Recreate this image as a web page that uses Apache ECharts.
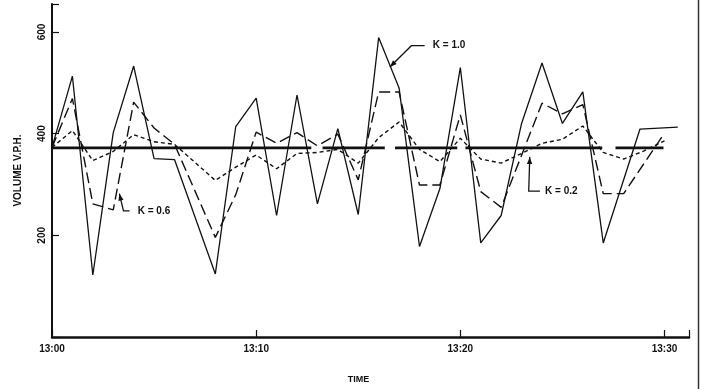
<!DOCTYPE html>
<html style="height: 100%">
<head>
    <title>Volume V.P.H.</title>
    <meta charset="utf-8">
</head>
<body style="height: 100%; margin: 0; background: #fff">
<div id="container" style="height:389px;width:701px"></div>
<script src="https://cdn.jsdelivr.net/npm/echarts@6/dist/echarts.min.js"></script>
<script type="text/javascript">
    // minutes after 13:00
    var minutes = [0, 1, 2, 3, 4, 5, 6, 7, 8, 9, 10, 11, 12, 13, 14, 15, 16, 17, 18, 19, 20,
        21, 22, 23, 24, 25, 26, 27, 28, 29, 30];
    // K = 1.0 (raw volume)
    var k10 = [373, 513, 122, 402, 533, 351, 349, null, 124, 414, 470, 239, 476, 262, 410, 241, 589, 490, 178, 292, 530,
        185, 239, 420, 539, 420, 482, 185, null, null, null];
    var k10TailMinutes = [28.8, 30.65];
    var k10Tail = [409, 413];
    // K = 0.6
    var k06 = [373, 469, 262, 250, 462, 411, 379, null, 196, 280, 403, 381, 402, 376, 399, 309, 482, 482, 299, 299, 437,
        286, 255, null, 460, 439, 457, 282, 282, null, 401];
    // K = 0.2
    var k02 = [373, 406, 347, 365, 398, 384, 379, null, 308, 334, 358, 331, 361, 363, 369, 342, 392, 423, 369, 345, 391,
        350, 342, 361, 381, 389, 415, 363, 350, 366, 386];
    // mean level, drawn in pieces [from, to]
    var meanLevel = 372;
    var meanPieces = [[0, 12.7], [13.25, 16.3], [16.8, 19.85], [20.25, 26.95], [27.6, 29.95]];
    var yTicks = [200, 400, 600];
    var timeTicks = [0, 10, 20, 30];

    function pairs(xs, ys) {
        var out = [];
        for (var i = 0; i < xs.length; i++) {
            if (ys[i] !== null) out.push([xs[i], ys[i]]);
        }
        return out;
    }

    var k10Data = pairs(minutes, k10).concat(pairs(k10TailMinutes, k10Tail));
    var meanData = [];
    meanPieces.forEach(function (p, i) {
        if (i > 0) meanData.push([(meanPieces[i - 1][1] + p[0]) / 2, null]);
        meanData.push([p[0], meanLevel], [p[1], meanLevel]);
    });

    var ink = '#111';
    var font = 'Liberation Sans';
    var dom = document.getElementById("container");
    var myChart = echarts.init(dom);
    myChart.setOption({
        animation: false,
        backgroundColor: '#fff',
        grid: {left: 52, right: 12, top: 4, bottom: 46},
        xAxis: {
            type: 'value', min: 0, max: 31.2, interval: 10,
            name: 'TIME', nameLocation: 'middle', nameGap: 38,
            nameTextStyle: {color: ink, fontFamily: font, fontSize: 9, fontWeight: 'bold', padding: [0, 24, 0, 0]},
            splitLine: {show: false},
            axisLine: {lineStyle: {color: ink, width: 2.5}},
            axisTick: {inside: true, length: 7, lineStyle: {color: ink, width: 1.2}},
            axisLabel: {
                color: ink, fontFamily: font, fontSize: 10, fontWeight: 'bold', margin: 7,
                formatter: function (v) {
                    return timeTicks.indexOf(v) >= 0 ? '13:' + (v < 10 ? '0' + v : v) : '';
                }
            }
        },
        yAxis: {
            type: 'value', min: 0, max: 655, interval: 200,
            name: 'VOLUME V.P.H.', nameLocation: 'middle', nameGap: 29,
            nameTextStyle: {color: ink, fontFamily: font, fontSize: 10, fontWeight: 'bold'},
            splitLine: {show: false},
            axisLine: {show: true, lineStyle: {color: ink, width: 2}},
            axisTick: {show: true, inside: true, length: 7, lineStyle: {color: ink, width: 1.2}},
            axisLabel: {
                color: ink, fontFamily: font, fontSize: 10, fontWeight: 'bold', rotate: 90, margin: 5,
                formatter: function (v) {
                    return yTicks.indexOf(v) >= 0 ? String(v) : '';
                }
            }
        },
        series: [
            {
                name: 'mean', type: 'line', data: meanData, symbol: 'none', connectNulls: false,
                lineStyle: {color: ink, width: 2.6}
            },
            {
                name: 'K = 1.0', type: 'line', data: k10Data, symbol: 'none',
                lineStyle: {color: ink, width: 1.3}
            },
            {
                name: 'K = 0.6', type: 'line', data: pairs(minutes, k06), symbol: 'none',
                lineStyle: {color: ink, width: 1.4, type: [11, 5]}
            },
            {
                name: 'K = 0.2', type: 'line', data: pairs(minutes, k02), symbol: 'none',
                lineStyle: {color: ink, width: 1.4, type: [4, 3]}
            }
        ]
    });

    // labels with leader arrows, anchored in data units
    var notes = [
        {text: 'K = 1.0', at: [18.65, 573], path: [[18.25, 573], [17.6, 573], [16.55, 531]]},
        {text: 'K = 0.6', at: [4.2, 248], path: [[3.8, 248], [3.5, 248], [3.3, 282]]},
        {text: 'K = 0.2', at: [24.15, 287], path: [[23.9, 287], [23.35, 287], [23.4, 354]]}
    ];
    var graphics = [];
    notes.forEach(function (n) {
        var p0 = myChart.convertToPixel({gridIndex: 0}, n.at);
        var pts = n.path.map(function (p) {
            return myChart.convertToPixel({gridIndex: 0}, p);
        });
        graphics.push({
            type: 'text', x: p0[0], y: p0[1],
            style: {text: n.text, fill: ink, font: 'bold 10px "Liberation Sans"', verticalAlign: 'middle'}
        });
        graphics.push({
            type: 'polyline', shape: {points: pts},
            style: {stroke: ink, lineWidth: 1.3, fill: null}
        });
        var a = pts[pts.length - 1], b = pts[pts.length - 2];
        var ang = Math.atan2(a[1] - b[1], a[0] - b[0]);
        var L = 7, W = 2.6;
        var bx = a[0] - L * Math.cos(ang), by = a[1] - L * Math.sin(ang);
        graphics.push({
            type: 'polygon',
            shape: {
                points: [a,
                    [bx + W * Math.sin(ang), by - W * Math.cos(ang)],
                    [bx - W * Math.sin(ang), by + W * Math.cos(ang)]]
            },
            style: {fill: ink}
        });
    });
    // frame edge on the right
    graphics.push({type: 'line', shape: {x1: 698.5, y1: 0, x2: 698.5, y2: 389}, style: {stroke: '#333', lineWidth: 1.5}});
    myChart.setOption({graphic: graphics});
</script>
</body>
</html>
